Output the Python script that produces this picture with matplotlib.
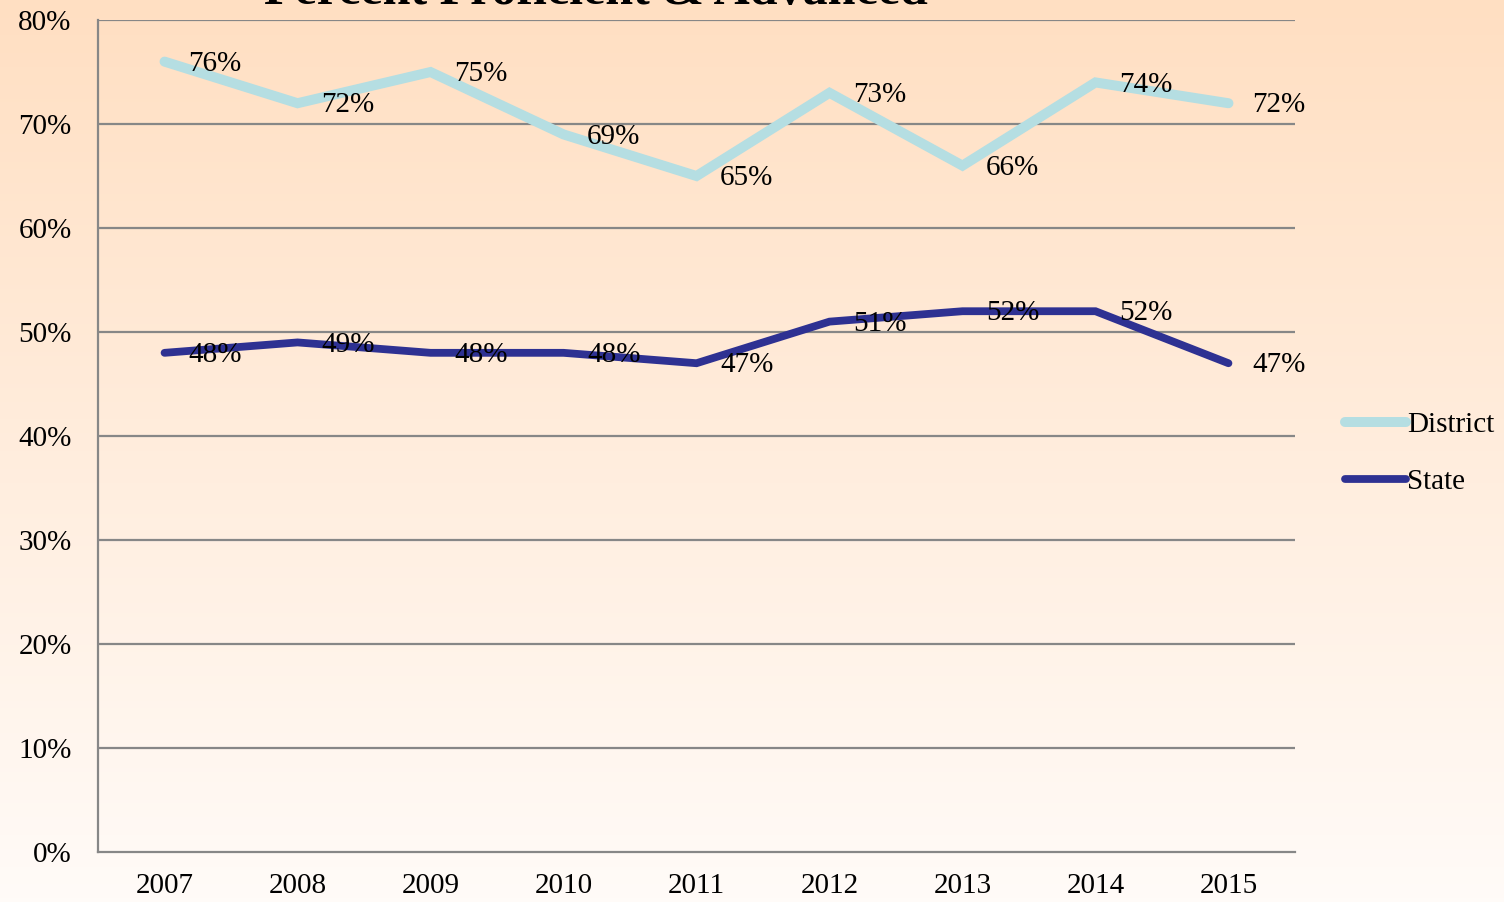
import numpy as np
import matplotlib.pyplot as plt
from matplotlib.colors import LinearSegmentedColormap

# chart values
years = ['2007', '2008', '2009', '2010', '2011', '2012', '2013', '2014', '2015']
district = [76, 72, 75, 69, 65, 73, 66, 74, 72]
state = [48, 49, 48, 48, 47, 51, 52, 52, 47]
y_ticks = [0, 10, 20, 30, 40, 50, 60, 70, 80]

plt.rcParams['font.family'] = ['Liberation Serif', 'DejaVu Serif']

fig = plt.figure(figsize=(15.04, 9.02), dpi=100)

# peach to white background gradient over the whole figure
bg = fig.add_axes([0, 0, 1, 1], zorder=-10)
grad = np.linspace(0, 1, 256).reshape(-1, 1)
cmap = LinearSegmentedColormap.from_list('bg', ['#FFDFC2', '#FFFBF8'])
bg.imshow(grad, aspect='auto', cmap=cmap, extent=[0, 1, 0, 1])
bg.axis('off')

ax = fig.add_axes([0.0652, 0.0554, 0.7958, 0.9224])
ax.set_facecolor('none')

x = np.arange(len(years))
ax.plot(x, district, color='#B5DEE2', linewidth=7.2, solid_capstyle='round',
        solid_joinstyle='miter', label='District', zorder=3)
ax.plot(x, state, color='#2E3192', linewidth=5.6, solid_capstyle='round',
        solid_joinstyle='miter', label='State', zorder=3)

for xi, v in zip(x, district):
    ax.annotate(f'{v}%', (xi, v), xytext=(17, -1.5), textcoords='offset points',
                ha='left', va='center', fontsize=21, zorder=4)
for xi, v in zip(x, state):
    ax.annotate(f'{v}%', (xi, v), xytext=(17, -1.5), textcoords='offset points',
                ha='left', va='center', fontsize=21, zorder=4)

ax.set_xlim(-0.5, len(years) - 0.5)
ax.set_ylim(0, 80)
ax.set_yticks(y_ticks)
ax.set_yticklabels([f'{t}%' for t in y_ticks])
ax.set_xticks(x)
ax.set_xticklabels(years)
ax.tick_params(axis='both', length=0, labelsize=21)
ax.tick_params(axis='y', pad=19)
ax.tick_params(axis='x', pad=15)

for t in y_ticks[1:]:
    ax.axhline(t, color='#878787', linewidth=1.6, zorder=1)
for side in ['top', 'right']:
    ax.spines[side].set_visible(False)
for side in ['left', 'bottom']:
    ax.spines[side].set_color('#878787')
    ax.spines[side].set_linewidth(1.6)

fig.text(0.396, 1 - 4 / 902, 'Percent Proficient & Advanced', ha='center',
         va='baseline', fontsize=36, fontweight='bold')

fig.legend(loc='center left', bbox_to_anchor=(0.894, 0.497), frameon=False,
           fontsize=21, handlelength=2.1, handletextpad=0.05, labelspacing=1.05,
           borderaxespad=0, borderpad=0)

fig.savefig('out.png', dpi=100)
